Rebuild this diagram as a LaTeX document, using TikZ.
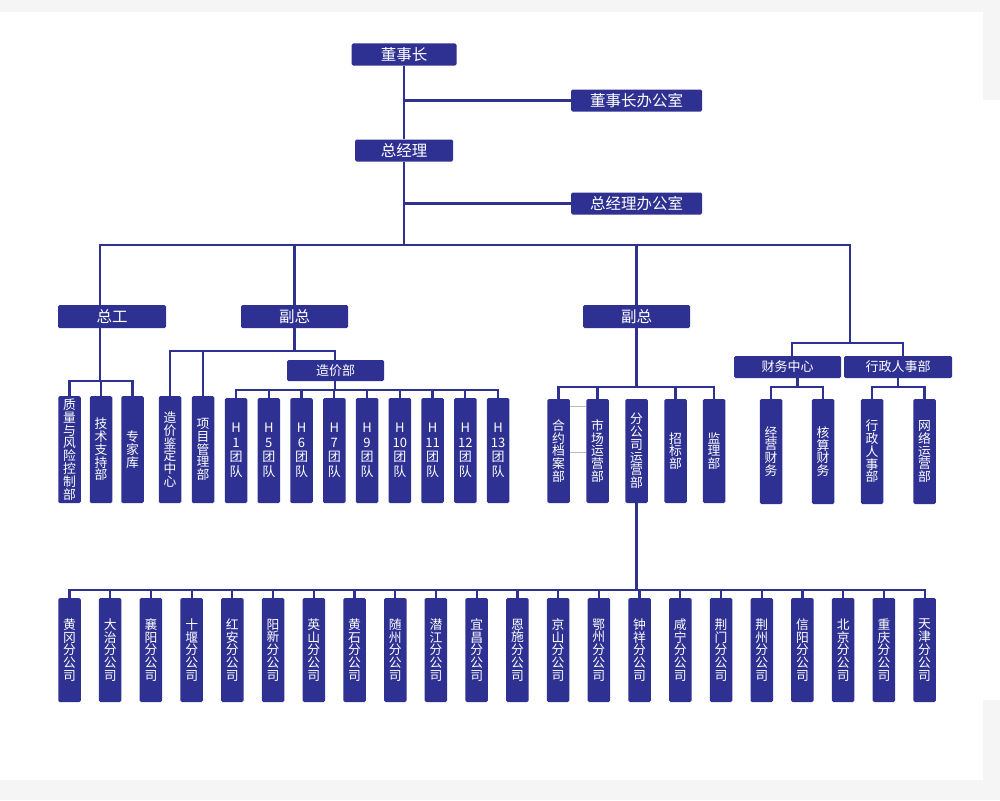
\documentclass[tikz,border=0pt]{standalone}
\usepackage{fontspec}
\setmainfont{Noto Sans CJK SC}
\definecolor{navy}{RGB}{46,49,146}
\definecolor{bgray}{RGB}{245,245,245}
\definecolor{thin}{RGB}{185,185,190}
\tikzset{
  base/.style={fill=navy, rounded corners=1.5pt, text=white, inner sep=0pt},
  hb/.style={base, minimum height=22pt, font=\fontsize{15.5}{15.5}\selectfont},
  hs/.style={base, minimum height=22pt, font=\fontsize{13}{13}\selectfont},
  vb/.style={base, minimum width=22.5pt, align=center, font=\fontsize{12.8}{12.8}\selectfont},
  vh/.style={base, minimum width=22.5pt, align=center, font=\fontsize{13}{14.5}\selectfont},
  ln/.style={draw=navy, line width=2.2pt},
  gl/.style={draw=thin, line width=0.8pt}
}
\begin{document}
\begin{tikzpicture}[x=1pt,y=-1pt]
\fill[bgray] (0,0) rectangle (1000,800);
\fill[white] (0,12) rectangle (983,780);
\fill[white] (983,100) rectangle (1000,700);
\useasboundingbox (0,0) rectangle (1000,800);

% top
\node[hb, minimum width=105pt] (ceo) at (404,54.5) {董事长};
\node[hb, minimum width=131pt] (ceooff) at (636.5,100.5) {董事长办公室};
\node[hb, minimum width=98pt] (gm) at (404,150.5) {总经理};
\node[hb, minimum width=131pt] (gmoff) at (636.5,203.5) {总经理办公室};
\draw[ln] (ceo.south) -- (gm.north);
\draw[ln] (ceo.south |- ceooff.west) -- (ceooff.west);
\coordinate (gmbus) at (404,245);
\draw[ln] (gm.south) -- (gmbus);
\draw[ln] (gm.south |- gmoff.west) -- (gmoff.west);

% second level
\node[hb, minimum width=108pt, minimum height=23pt] (zg) at (112,316.5) {总工};
\node[hb, minimum width=107pt, minimum height=23pt] (fz1) at (294.5,316.5) {副总};
\node[hb, minimum width=107pt, minimum height=23pt] (fz2) at (636.5,316.5) {副总};
\coordinate (j1) at (100,245);
\coordinate (j4) at (850,245);
\draw[ln] (j1 |- zg.north) -- (j1) -- (j4) -- (850,343) coordinate (r0);
\draw[ln] (fz1.north |- j1) -- (fz1.north);
\draw[ln] (fz2.north |- j1) -- (fz2.north);

% 总工 children
\node[vb, minimum height=107pt] (zl) at (69.5,449.5) {质\\量\\与\\风\\险\\控\\制\\部};
\node[vb, minimum height=107pt] (js) at (101,449.5) {技\\术\\支\\持\\部};
\node[vb, minimum height=107pt] (zj) at (132.5,449.5) {专\\家\\库};
\coordinate (zgbus) at (0,381);
\draw[ln] (j1 |- zg.south) -- (j1 |- zgbus);
\draw[ln] (zl.north) -- (zl.north |- zgbus) -- (zj.north |- zgbus) -- (zj.north);
\draw[ln] (js.north |- zgbus) -- (js.north);

% 副总 left children
\node[vb, minimum height=107pt] (zjjd) at (170,449.5) {造\\价\\鉴\\定\\中\\心};
\node[vb, minimum height=107pt] (xmgl) at (203,449.5) {项\\目\\管\\理\\部};
\node[hs, minimum width=97pt, minimum height=21pt] (zjb) at (335.5,370.5) {造价部};
\coordinate (f1bus) at (0,351);
\draw[ln] (fz1.south) -- (fz1.south |- f1bus);
\draw[ln] (zjjd.north) -- (zjjd.north |- f1bus) -- (335,351) -- (335,360);
\draw[ln] (xmgl.north |- f1bus) -- (xmgl.north);

% H teams
\foreach \t [count=\i from 0] in {1,5,6,7,9,10,11,12,13}{
  \node[vh, minimum height=105pt] (h\i) at ({236+32.75*\i},450.5) {H\\\t\\团\\队};
}
\coordinate (hbus) at (0,390);
\draw[ln] (335,381) -- (335,390);
\draw[ln] (h0.north) -- (h0.north |- hbus) -- (h8.north |- hbus) -- (h8.north);
\foreach \i in {1,...,7}{ \draw[ln] (h\i.north |- hbus) -- (h\i.north); }

% 副总 right children
\node[vb, minimum height=104pt] (hy) at (558.5,451) {合\\约\\档\\案\\部};
\node[vb, minimum height=104pt] (sc) at (597.5,451) {市\\场\\运\\营\\部};
\node[vb, minimum height=104pt] (fgs) at (636.5,451) {分\\公\\司\\运\\营\\部};
\node[vb, minimum height=104pt] (zb) at (675.5,451) {招\\标\\部};
\node[vb, minimum height=104pt] (jl) at (714,451) {监\\理\\部};
\coordinate (f2bus) at (0,387);
\draw[ln] (fz2.south) -- (fz2.south |- f2bus);
\draw[ln] (hy.north) -- (hy.north |- f2bus) -- (jl.north |- f2bus) -- (jl.north);
\foreach \n in {sc,zb}{ \draw[ln] (\n.north |- f2bus) -- (\n.north); }
\draw[gl] (hy.east |- 0,406) -- (sc.west |- 0,406);
\draw[gl] (hy.east |- 0,452) -- (sc.west |- 0,452);

% right group
\node[hs, minimum width=107pt] (cw) at (787.5,367) {财务中心};
\node[hs, minimum width=108pt] (xz) at (898,367) {行政人事部};
\coordinate (r1) at (792,343);
\coordinate (r2) at (903,343);
\draw[ln] (r1 |- cw.north) -- (r1) -- (r2) -- (r2 |- xz.north);
\node[vb, minimum height=105pt] (jy) at (771,451.5) {经\\营\\财\\务};
\node[vb, minimum height=105pt] (hs) at (823,451.5) {核\\算\\财\\务};
\node[vb, minimum height=105pt] (xzrs) at (872,451.5) {行\\政\\人\\事\\部};
\node[vb, minimum height=105pt] (wl) at (924.5,451.5) {网\\络\\运\\营\\部};
\coordinate (rbus) at (0,387);
\draw[ln] (797.5,378) -- (797.5,387);
\draw[ln] (jy.north) -- (jy.north |- rbus) -- (hs.north |- rbus) -- (hs.north);
\draw[ln] (xz.south) -- (xz.south |- rbus);
\draw[ln] (xzrs.north) -- (xzrs.north |- rbus) -- (wl.north |- rbus) -- (wl.north);

% branches
\foreach \a/\b [count=\i from 0] in {黄/冈,大/治,襄/阳,十/堰,红/安,阳/新,英/山,黄/石,随/州,潜/江,宜/昌,恩/施,京/山,鄂/州,钟/祥,咸/宁,荆/门,荆/州,信/阳,北/京,重/庆,天/津}{
  \node[vb, minimum height=104pt] (b\i) at ({69.5+40.72*\i},650) {\a\\\b\\分\\公\\司};
}
\coordinate (bbus) at (0,590);
\draw[ln] (fgs.south) -- (fgs.south |- bbus);
\draw[ln] (b0.north) -- (b0.north |- bbus) -- (b21.north |- bbus) -- (b21.north);
\foreach \i in {1,...,20}{ \draw[ln] (b\i.north |- bbus) -- (b\i.north); }
\end{tikzpicture}
\end{document}
